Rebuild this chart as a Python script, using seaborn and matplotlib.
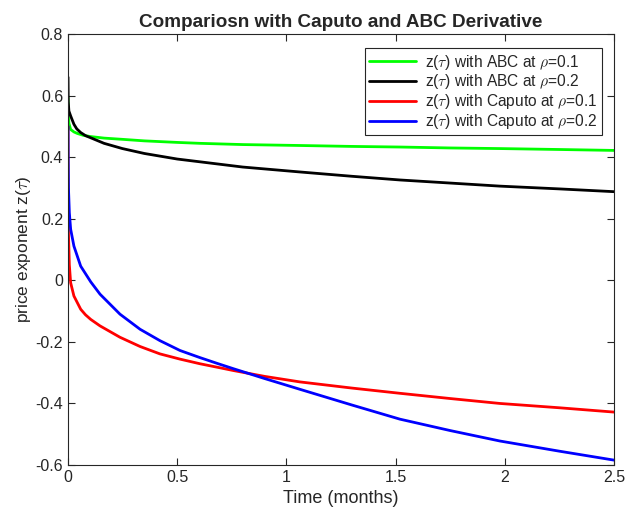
import pandas as pd
import numpy as np
import matplotlib
matplotlib.use("Agg")
import matplotlib.pyplot as plt
import seaborn as sns

# values
t_abc1 = [0, 0.001, 0.004, 0.012, 0.027, 0.043, 0.07, 0.104, 0.165, 0.249, 0.35, 0.5, 0.604,
          0.8, 1.062, 1.3, 1.52, 1.75, 1.978, 2.25, 2.5]
z_abc1 = [0.593, 0.54, 0.51, 0.49, 0.482, 0.477, 0.471, 0.467, 0.462, 0.458, 0.453, 0.448, 0.445,
          0.441, 0.438, 0.435, 0.433, 0.43, 0.428, 0.425, 0.422]

t_abc2 = [0, 0.001, 0.004, 0.012, 0.027, 0.04, 0.058, 0.08, 0.104, 0.165, 0.249, 0.35, 0.5, 0.604,
          0.8, 1.062, 1.3, 1.52, 1.75, 1.978, 2.25, 2.5]
z_abc2 = [0.66, 0.58, 0.55, 0.534, 0.507, 0.492, 0.48, 0.47, 0.463, 0.445, 0.428, 0.412, 0.394, 0.385,
          0.368, 0.352, 0.338, 0.326, 0.316, 0.306, 0.297, 0.288]

t_cap1 = [0, 0.0005, 0.002, 0.006, 0.012, 0.027, 0.058, 0.08, 0.104, 0.1465, 0.238, 0.33, 0.421,
          0.513, 0.604, 0.688, 0.757, 0.9, 1.062, 1.3, 1.52, 1.75, 1.978, 2.25, 2.5]
z_cap1 = [0.5, 0.3, 0.15, 0.05, -0.008, -0.051, -0.094, -0.112, -0.127, -0.148, -0.185, -0.215, -0.239,
          -0.256, -0.271, -0.283, -0.293, -0.312, -0.33, -0.35, -0.367, -0.384, -0.4, -0.414, -0.428]

t_cap2 = [0, 0.0005, 0.002, 0.006, 0.012, 0.027, 0.058, 0.104, 0.1465, 0.238, 0.33, 0.421, 0.513,
          0.604, 0.688, 0.757, 0.9, 1.062, 1.3, 1.52, 1.75, 1.978, 2.25, 2.5]
z_cap2 = [0.5, 0.4, 0.3, 0.22, 0.166, 0.111, 0.046, -0.005, -0.045, -0.11, -0.159, -0.196, -0.228,
          -0.251, -0.271, -0.287, -0.319, -0.354, -0.405, -0.451, -0.488, -0.522, -0.555, -0.584]

labels = [r"z($\tau$) with ABC at $\rho$=0.1",
          r"z($\tau$) with ABC at $\rho$=0.2",
          r"z($\tau$) with Caputo at $\rho$=0.1",
          r"z($\tau$) with Caputo at $\rho$=0.2"]
colors = ["#00ff00", "#000000", "#ff0000", "#0000ff"]

frames = []
for lab, t, z in zip(labels, [t_abc1, t_abc2, t_cap1, t_cap2], [z_abc1, z_abc2, z_cap1, z_cap2]):
    frames.append(pd.DataFrame({"t": t, "z": z, "series": lab}))
df = pd.concat(frames, ignore_index=True)

sns.set_style("white")
plt.rcParams['font.family'] = ['Liberation Sans', 'DejaVu Sans']
plt.rcParams['mathtext.fontset'] = 'cm'

fig = plt.figure(figsize=(6.27, 5.16), dpi=100)
ax = fig.add_axes([0.1085, 0.0988, 0.8705, 0.8352])

sns.lineplot(data=df, x="t", y="z", hue="series", hue_order=labels,
             palette=colors, estimator=None, sort=False, linewidth=2, ax=ax)

ax.set_xlim(0, 2.5)
ax.set_ylim(-0.6, 0.8)
ax.set_xticks([0, 0.5, 1, 1.5, 2, 2.5])
ax.set_xticklabels(["0", "0.5", "1", "1.5", "2", "2.5"])
ax.set_yticks([-0.6, -0.4, -0.2, 0, 0.2, 0.4, 0.6, 0.8])
ax.set_yticklabels(["-0.6", "-0.4", "-0.2", "0", "0.2", "0.4", "0.6", "0.8"])
ax.tick_params(direction="in", length=5, width=0.8, labelsize=11.5, colors="#262626",
               top=True, right=True, bottom=True, left=True)
for sp in ax.spines.values():
    sp.set_color("#262626")
    sp.set_linewidth(0.8)

ax.set_xlabel("Time (months)", fontsize=13, labelpad=4)
ax.set_ylabel(r"price exponent z($\tau$)", fontsize=12.5, labelpad=2)
ax.set_title("Compariosn with Caputo and ABC Derivative", fontsize=13.6, fontweight="bold", pad=5)

leg = ax.legend(loc="upper right", bbox_to_anchor=(0.992, 0.985), fontsize=11.2,
                fancybox=False, framealpha=1, edgecolor="#262626",
                handlelength=3.0, labelspacing=0.05, borderpad=0.28, handletextpad=0.6)
leg.get_frame().set_linewidth(0.8)

fig.savefig("out.png", dpi=100)
